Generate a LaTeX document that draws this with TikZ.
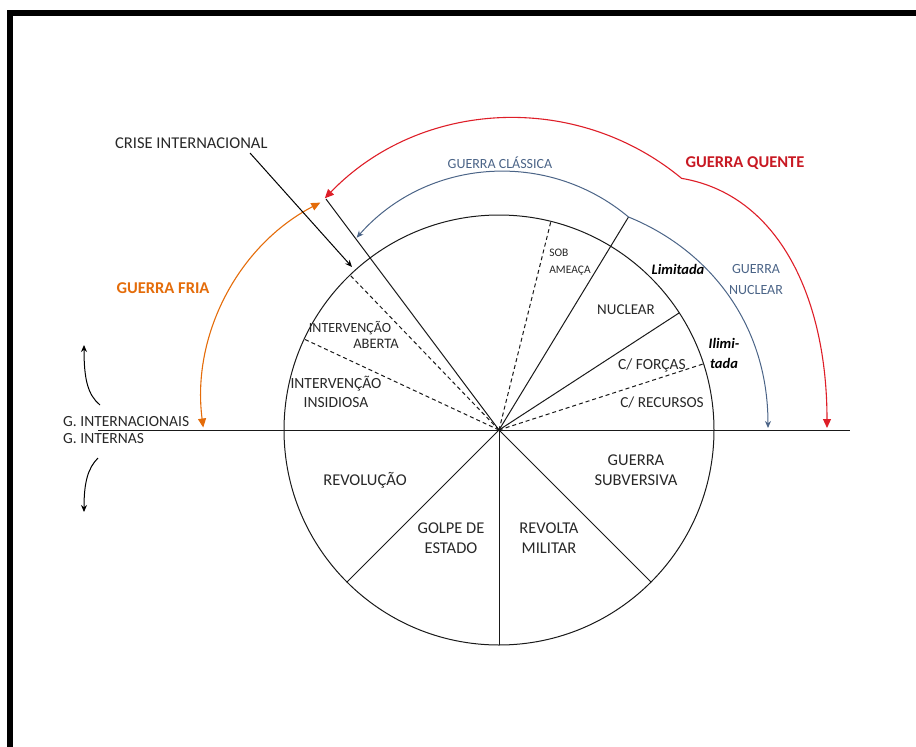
\documentclass[tikz,border=0pt]{standalone}
\usepackage{fontspec}
\setmainfont{Carlito}
\usetikzlibrary{arrows.meta}
\definecolor{txt}{RGB}{40,40,40}
\definecolor{hotred}{RGB}{222,30,40}
\definecolor{hottext}{RGB}{200,25,35}
\definecolor{coldor}{RGB}{228,108,10}
\definecolor{classic}{RGB}{75,100,135}
\tikzset{
  ln/.style={draw=black!90, line width=1pt},
  dsh/.style={draw=black!90, line width=1pt, dash pattern=on 4pt off 3pt},
  lbl/.style={inner sep=0pt, text=txt, align=center, font=\fontsize{16}{20}\selectfont},
  small/.style={inner sep=0pt, text=txt, align=left, font=\fontsize{11.5}{17}\selectfont},
  ital/.style={inner sep=0pt, text=black, align=center, font=\fontsize{14.5}{20}\selectfont\bfseries\itshape},
  bluelbl/.style={inner sep=0pt, text=classic, align=center, font=\fontsize{14}{21}\selectfont},
  redtip/.style={{Triangle[length=9pt,width=8pt]}-{Triangle[length=9pt,width=8pt]}},
  bluetip/.style={-{Stealth[length=7pt,width=6pt]}},
  blacktip/.style={-{Stealth[length=7pt,width=6pt]}}
}
\begin{document}
\begin{tikzpicture}[x=1pt,y=-1pt]
\useasboundingbox (0,0) rectangle (916,747);
% frame
\draw[line width=6pt, line join=miter] (9.7,747) -- (9.7,13) -- (916,13);

% main geometry
\coordinate (O) at (499,430);
\coordinate (hl) at (98,430);
\coordinate (hr) at (850,430);
\coordinate (pD) at (499,645);
\coordinate (pDL) at (347,582);
\coordinate (pDR) at (651,582);
\coordinate (J) at (628.5,217);
\coordinate (p33) at (679,313);
\coordinate (p18) at (703,364);
\coordinate (p76) at (551,221);
\coordinate (p127) at (326,199);
\coordinate (p134) at (350,275);
\coordinate (p155) at (304,339);

\draw[ln] (O) circle[radius=215];
\draw[ln] (hl) -- (hr);
\draw[ln] (O) -- (pD);
\draw[ln] (O) -- (pDL);
\draw[ln] (O) -- (pDR);
\draw[ln] (O) -- (J);
\draw[ln] (O) -- (p33);
\draw[ln] (O) -- (p127);
\draw[dsh] (O) -- (p18);
\draw[dsh] (O) -- (p76);
\draw[dsh] (O) -- (p134);
\draw[dsh] (O) -- (p155);

% arcs
\coordinate (redL) at (324.8,198.3);
\coordinate (redR) at (827,428);
\draw[hotred, line width=1.1pt, redtip] (redL) arc[start angle=-136, end angle=-50.4, radius=263]
  coordinate (kink) .. controls (780,195) and (827,300) .. (redR);
\coordinate (orT) at (320.3,202.6);
\draw[coldor, line width=1.1pt, redtip] (orT) arc[start angle=-117.6, end angle=-187.4, radius=221.6];
\draw[classic, line width=1pt, bluetip] (J) arc[start angle=-50, end angle=-138.7, radius=195];
\coordinate (blueR) at (768,428);
\draw[classic, line width=1pt, bluetip] (J) .. controls (705,248) and (768,320) .. (blueR);

% crisis arrow
\coordinate (crS) at (250,153);
\coordinate (crE) at (352,267);
\draw[line width=1pt, blacktip] (crS) -- (crE);

% left curved arrows
\coordinate (ua1) at (100,405);
\coordinate (ua2) at (84,345);
\coordinate (la1) at (98,458);
\coordinate (la2) at (84,512);
\draw[line width=1pt, blacktip] (ua1) .. controls (88,395) and (84,380) .. (ua2);
\draw[line width=1pt, blacktip] (la1) .. controls (88,468) and (84,482) .. (la2);

% labels
\node[lbl, anchor=west, font=\fontsize{16.5}{20}\selectfont] (crise) at (115,143) {CRISE INTERNACIONAL};
\node[bluelbl] (classica) at (500,163) {GUERRA CLÁSSICA};
\node[inner sep=0pt, text=hottext, font=\fontsize{16.5}{20}\selectfont\bfseries] (quente) at (745,163) {GUERRA QUENTE};
\node[inner sep=0pt, text=coldor, font=\fontsize{16.5}{20}\selectfont\bfseries] (fria) at (163,288) {GUERRA FRIA};
\node[lbl, align=left, anchor=west, font=\fontsize{15.5}{17}\selectfont] (gint) at (63,430.5) {G. INTERNACIONAIS\\G. INTERNAS};
\node[small] (sob) at (570,262) {SOB\\AMEAÇA};
\node[ital] (limitada) at (678,269) {Limitada};
\node[bluelbl] (gnuclear) at (756,280) {GUERRA\\NUCLEAR};
\node[lbl, font=\fontsize{15}{20}\selectfont] (nuclear) at (626,310) {NUCLEAR};
\node[ital] (ilimitada) at (724,353) {Ilimi-\\tada};
\node[lbl, font=\fontsize{15.5}{20}\selectfont] (forcas) at (652,365) {C/ FORÇAS};
\node[lbl, font=\fontsize{15.3}{20}\selectfont] (recursos) at (662,403) {C/ RECURSOS};
\node[lbl, font=\fontsize{14}{20}\selectfont] (iab1) at (350,328) {INTERVENÇÃO};
\node[lbl, font=\fontsize{14.5}{20}\selectfont] (iab2) at (376,344) {ABERTA};
\node[lbl, font=\fontsize{15.5}{19}\selectfont] (insid) at (336,392) {INTERVENÇÃO\\INSIDIOSA};
\node[lbl, font=\fontsize{16.5}{20}\selectfont] (revol) at (365,480) {REVOLUÇÃO};
\node[lbl, font=\fontsize{16.5}{20}\selectfont] (golpe) at (451,538) {GOLPE DE\\ESTADO};
\node[lbl, font=\fontsize{16.5}{20}\selectfont] (revolta) at (549,538) {REVOLTA\\MILITAR};
\node[lbl, font=\fontsize{16.5}{20}\selectfont] (subv) at (636,470) {GUERRA\\SUBVERSIVA};
\end{tikzpicture}
\end{document}
